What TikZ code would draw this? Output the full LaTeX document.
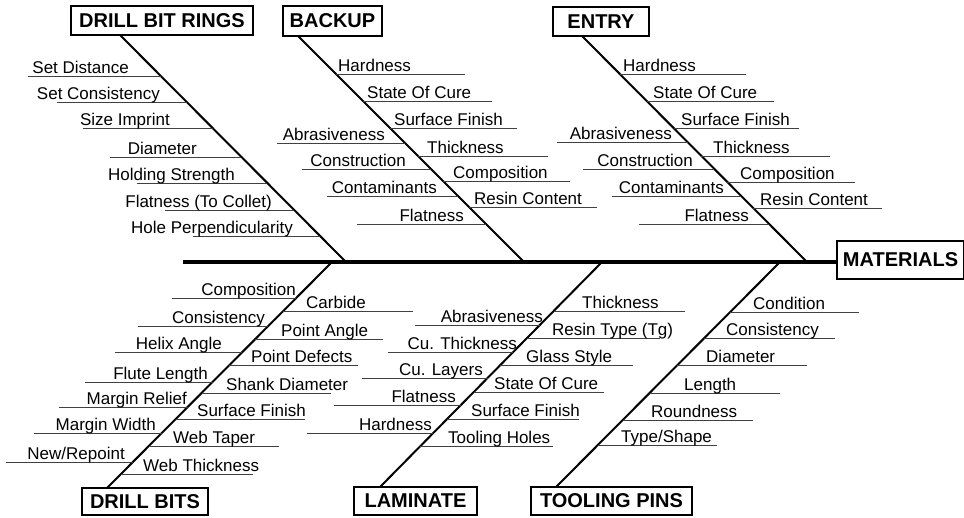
\documentclass[tikz,border=0pt]{standalone}
\usepackage{fontspec}
\setmainfont{Liberation Sans}
\usetikzlibrary{calc}
\tikzset{
  lbl/.style={font=\fontsize{17}{20}\selectfont, inner sep=0pt},
  catbox/.style={draw, line width=2.4pt, font=\bfseries\fontsize{20}{24}\selectfont, inner sep=0pt, fill=white},
  bonel/.style={line width=2pt},
  spine/.style={line width=3.5pt},
  twig/.style={line width=0.9pt, black!75},
}
\newcommand{\setbone}[4]{\def\bxa{#1}\def\bya{#2}\def\bxb{#3}\def\byb{#4}}
\newcommand{\twigR}[4]{%
  \pgfmathsetmacro\twx{\bxa+((#1-\bya)/(\byb-\bya))*(\bxb-\bxa)}%
  \coordinate (tw) at (\twx,#1);%
  \coordinate (tf) at (#2,#1);%
  \draw[twig] (tw) -- (tf);%
  \node[lbl,anchor=base west] at (#3,#1-3) {#4};}
\newcommand{\twigL}[4]{%
  \pgfmathsetmacro\twx{\bxa+((#1-\bya)/(\byb-\bya))*(\bxb-\bxa)}%
  \coordinate (tw) at (\twx,#1);%
  \coordinate (tf) at (#2,#1);%
  \draw[twig] (tf) -- (tw);%
  \node[lbl,anchor=base east] at (#3,#1-3) {#4};}
\begin{document}
\begin{tikzpicture}[x=1pt,y=-1pt]
\fill[white] (0,0) rectangle (964,517);
\useasboundingbox (0,0) rectangle (964,517);

% category boxes
\node[catbox, minimum width=182pt, minimum height=29pt] (dbr) at (162,20.5) {DRILL BIT RINGS};
\node[catbox, minimum width=99pt, minimum height=30pt] (bak) at (332.5,21) {BACKUP};
\node[catbox, minimum width=96pt, minimum height=29pt] (ent) at (601,21.5) {ENTRY};
\node[catbox, minimum width=127pt, minimum height=38pt] (mat) at (900.5,260) {MATERIALS};
\node[catbox, minimum width=126pt, minimum height=27pt] (db) at (145,501.5) {DRILL BITS};
\node[catbox, minimum width=123pt, minimum height=28pt] (lam) at (415.5,501) {LAMINATE};
\node[catbox, minimum width=161pt, minimum height=28pt] (tp) at (611.5,501) {TOOLING PINS};

% spine
\coordinate (sp) at (183,262);
\draw[spine] (sp) -- (sp -| mat.west);

% bones
\coordinate (dbrA) at (120,35);  \coordinate (dbrB) at (346,262);
\coordinate (bakA) at (298,36);  \coordinate (bakB) at (524,262);
\coordinate (entA) at (582,36);  \coordinate (entB) at (807,262);
\coordinate (dbA) at (332,262);  \coordinate (dbB) at (107,488);
\coordinate (lamA) at (602,262); \coordinate (lamB) at (380,487);
\coordinate (tpA) at (780,262);  \coordinate (tpB) at (556,487);
\draw[bonel] (dbrA) -- (dbrB);
\draw[bonel] (bakA) -- (bakB);
\draw[bonel] (entA) -- (entB);
\draw[bonel] (dbA) -- (dbB);
\draw[bonel] (lamA) -- (lamB);
\draw[bonel] (tpA) -- (tpB);

% DRILL BIT RINGS
\setbone{120}{35}{346}{262}
\twigL{76}{28}{129}{Set Distance}
\twigL{102}{57}{160}{Set Consistency}
\twigL{128}{83}{170}{Size Imprint}
\twigL{157}{110}{197}{Diameter}
\twigL{183}{137}{235}{Holding Strength}
\twigL{210}{165}{272}{Flatness (To Collet)}
\twigL{236}{193}{293}{Hole Perpendicularity}

% BACKUP
\setbone{298}{36}{524}{262}
\twigR{74}{465}{338}{Hardness}
\twigR{101}{492}{367}{State Of Cure}
\twigR{128}{517}{394}{Surface Finish}
\twigR{156}{548}{427}{Thickness}
\twigR{181}{570}{453}{Composition}
\twigR{207}{597}{474}{Resin Content}
\twigL{143}{277}{385}{Abrasiveness}
\twigL{169}{302}{406}{Construction}
\twigL{196}{327}{437}{Contaminants}
\twigL{224}{357}{464}{Flatness}

% ENTRY
\setbone{582}{36}{807}{262}
\twigR{74}{746}{623}{Hardness}
\twigR{101}{774}{653}{State Of Cure}
\twigR{128}{799}{681}{Surface Finish}
\twigR{156}{830}{713}{Thickness}
\twigR{182}{855}{740}{Composition}
\twigR{208}{882}{760}{Resin Content}
\twigL{142}{557}{672}{Abrasiveness}
\twigL{169}{583}{693}{Construction}
\twigL{196}{612}{724}{Contaminants}
\twigL{224}{639}{749}{Flatness}

% DRILL BITS
\setbone{332}{262}{107}{488}
\twigL{298}{172}{296}{Composition}
\twigL{326}{138}{265}{Consistency}
\twigL{352}{115}{222}{Helix Angle}
\twigL{382}{85}{208}{Flute Length}
\twigL{407}{59}{187}{Margin Relief}
\twigL{433}{34}{156}{Margin Width}
\twigL{462}{6}{125}{New/Repoint}
\twigR{311}{413}{306}{Carbide}
\twigR{339}{383}{281}{Point Angle}
\twigR{365}{358}{251}{Point Defects}
\twigR{393}{331}{226}{Shank Diameter}
\twigR{419}{305}{197}{Surface Finish}
\twigR{446}{279}{173}{Web Taper}
\twigR{474}{253}{143}{Web Thickness}

% LAMINATE
\setbone{602}{262}{380}{487}
\twigR{311}{685}{582}{Thickness}
\twigR{338}{660}{552}{Resin Type (Tg)}
\twigR{365}{633}{526}{Glass Style}
\twigR{392}{604}{494}{State Of Cure}
\twigR{419}{579}{471}{Surface Finish}
\twigR{446}{553}{448}{Tooling Holes}
\twigL{325}{415}{543}{Abrasiveness}
\twigL{352}{388}{517}{Cu. Thickness}
\twigL{378}{362}{483}{Cu. Layers}
\twigL{405}{334}{456}{Flatness}
\twigL{433}{307}{432}{Hardness}

% TOOLING PINS
\setbone{780}{262}{556}{487}
\twigR{312}{859}{753}{Condition}
\twigR{338}{835}{726}{Consistency}
\twigR{365}{807}{706}{Diameter}
\twigR{393}{780}{684}{Length}
\twigR{420}{753}{651}{Roundness}
\twigR{445}{717}{621}{Type/Shape}
\end{tikzpicture}
\end{document}
